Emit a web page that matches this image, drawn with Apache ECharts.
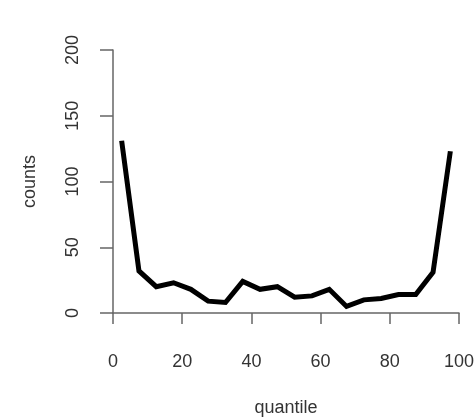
<!DOCTYPE html>
<html lang="en">
<head>
  <meta charset="UTF-8">
  <title>counts by quantile</title>
  <script src="https://cdn.jsdelivr.net/npm/echarts@6/dist/echarts.min.js"></script>
  <style>
    html, body { margin: 0; padding: 0; background: #fff; }
    #chart { width: 476px; height: 418px; }
  </style>
</head>
<body>
  <div id="chart"></div>
  <script>
    // quantile midpoints and counts
    const quantiles = [2.5, 7.5, 12.5, 17.5, 22.5, 27.5, 32.5, 37.5, 42.5, 47.5,
                       52.5, 57.5, 62.5, 67.5, 72.5, 77.5, 82.5, 87.5, 92.5, 97.5];
    const counts = [131, 32, 20, 23, 18, 9, 8, 24, 18, 20,
                    12, 13, 18, 5, 10, 11, 14, 14, 31, 123];
    const xTicks = [0, 20, 40, 60, 80, 100];
    const yTicks = [0, 50, 100, 150, 200];

    var myChart = echarts.init(document.getElementById('chart'));

    const font = 'Liberation Sans, Arial, sans-serif';
    const axisColor = '#666';
    const textColor = '#333';

    var option = {
      animation: false,
      grid: { left: 113, right: 17, top: 50, bottom: 105, containLabel: false, outerBoundsMode: 'none' },
      xAxis: {
        type: 'value',
        min: xTicks[0],
        max: xTicks[xTicks.length - 1],
        interval: 20,
        offset: 10,
        name: 'quantile',
        nameLocation: 'middle',
        nameGap: 76,
        nameTextStyle: { fontFamily: font, fontSize: 18, color: textColor },
        axisLine: { show: true, lineStyle: { color: axisColor, width: 1.5 } },
        axisTick: { show: true, length: 11, lineStyle: { color: axisColor, width: 1.5 } },
        axisLabel: { margin: 30, fontFamily: font, fontSize: 18, color: textColor },
        splitLine: { show: false }
      },
      yAxis: {
        type: 'value',
        min: yTicks[0],
        max: yTicks[yTicks.length - 1],
        interval: 50,
        offset: 5,
        name: 'counts',
        nameLocation: 'middle',
        nameRotate: 90,
        nameGap: 69,
        nameTextStyle: { fontFamily: font, fontSize: 18, color: textColor },
        axisLine: { show: true, lineStyle: { color: axisColor, width: 1.5 } },
        axisTick: { show: true, length: 13, lineStyle: { color: axisColor, width: 1.5 } },
        axisLabel: { rotate: 90, margin: 26, fontFamily: font, fontSize: 18, color: textColor },
        splitLine: { show: false }
      },
      series: [{
        type: 'line',
        data: quantiles.map((q, i) => [q, counts[i]]),
        showSymbol: false,
        lineStyle: { color: '#000', width: 5, join: 'miter' },
        itemStyle: { color: '#000' }
      }]
    };

    myChart.setOption(option);
  </script>
</body>
</html>
